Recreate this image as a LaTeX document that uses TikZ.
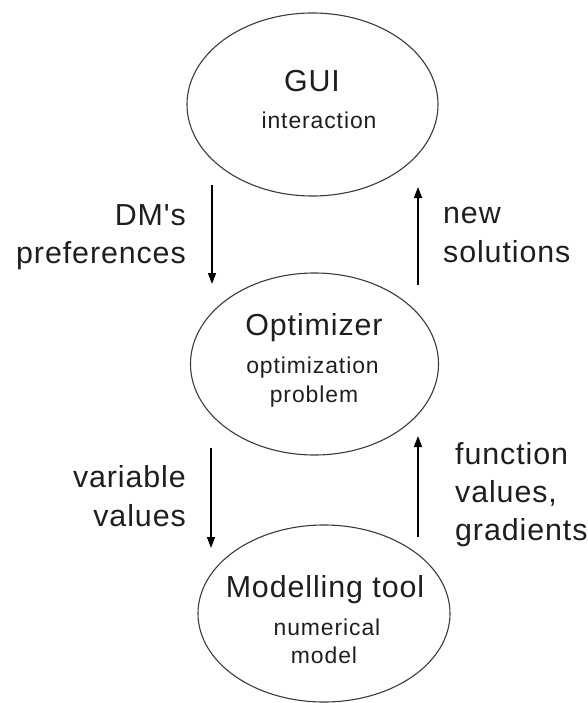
\documentclass[tikz,border=0pt]{standalone}
\usepackage{fontspec}
\setmainfont{Liberation Sans}
\newfontfamily\bigfam[LetterSpace=3]{Liberation Sans}
\newfontfamily\smallfam[LetterSpace=4]{Liberation Sans}
\usetikzlibrary{shapes.geometric,arrows.meta}
\definecolor{ink}{HTML}{1E1E1E}
\definecolor{rim}{HTML}{3A3A3A}
\tikzset{
  blob/.style={draw=rim, line width=1.1bp, ellipse, inner sep=0pt},
  title/.style={anchor=base, inner sep=0pt, text=ink, font=\bigfam\fontsize{30.5}{38}\selectfont},
  sub/.style={anchor=base, inner sep=0pt, text=ink, font=\smallfam\fontsize{23}{29}\selectfont},
  lbl/.style={inner sep=0pt, text=ink, font=\bigfam\fontsize{30.5}{38}\selectfont},
  flow/.style={draw=black, line width=1.5bp, -{Triangle[length=11bp,width=8bp]}}
}
\begin{document}
\begin{tikzpicture}[x=1bp, y=-1bp]
  \useasboundingbox (0,0) rectangle (588,703);

  % the three components
  \node[blob, minimum width=251bp, minimum height=183bp] (gui) at (312.5,104.5) {};
  \node[blob, minimum width=248bp, minimum height=182bp] (opt) at (314.5,364) {};
  \node[blob, minimum width=252bp, minimum height=177bp] (mod) at (324,613.5) {};

  % component texts
  \node[title] (guiT) at (312,92) {GUI};
  \node[sub] (guiS) at (319,129) {interaction};
  \node[title] (optT) at (314,335) {Optimizer};
  \node[sub] (optS1) at (312.5,373) {optimization};
  \node[sub] (optS2) at (314,402) {problem};
  \node[title] (modT) at (325,597) {Modelling tool};
  \node[sub] (modS1) at (327,635) {numerical};
  \node[sub] (modS2) at (324,663) {model};

  % arrow end points
  \coordinate (p1) at (212,185);
  \coordinate (p2) at (212,284);
  \coordinate (q1) at (418,285);
  \coordinate (q2) at (418,187);
  \coordinate (p3) at (211,448);
  \coordinate (p4) at (211,548);
  \coordinate (q3) at (418,537);
  \coordinate (q4) at (418,436);

  \draw[flow] (p1) -- (p2);
  \draw[flow] (q1) -- (q2);
  \draw[flow] (p3) -- (p4);
  \draw[flow] (q3) -- (q4);

  % arrow labels
  \node[lbl, anchor=base east] (l1a) at (186,225) {DM's};
  \node[lbl, anchor=base east] (l1b) at (186,263) {preferences};
  \node[lbl, anchor=base west] (l2a) at (443,223) {new};
  \node[lbl, anchor=base west] (l2b) at (443,262) {solutions};
  \node[lbl, anchor=base east] (l3a) at (186,487) {variable};
  \node[lbl, anchor=base east] (l3b) at (186,526) {values};
  \node[lbl, anchor=base west] (l4a) at (455,464) {function};
  \node[lbl, anchor=base west] (l4b) at (455,502) {values,};
  \node[lbl, anchor=base west] (l4c) at (455,540) {gradients};
\end{tikzpicture}
\end{document}
